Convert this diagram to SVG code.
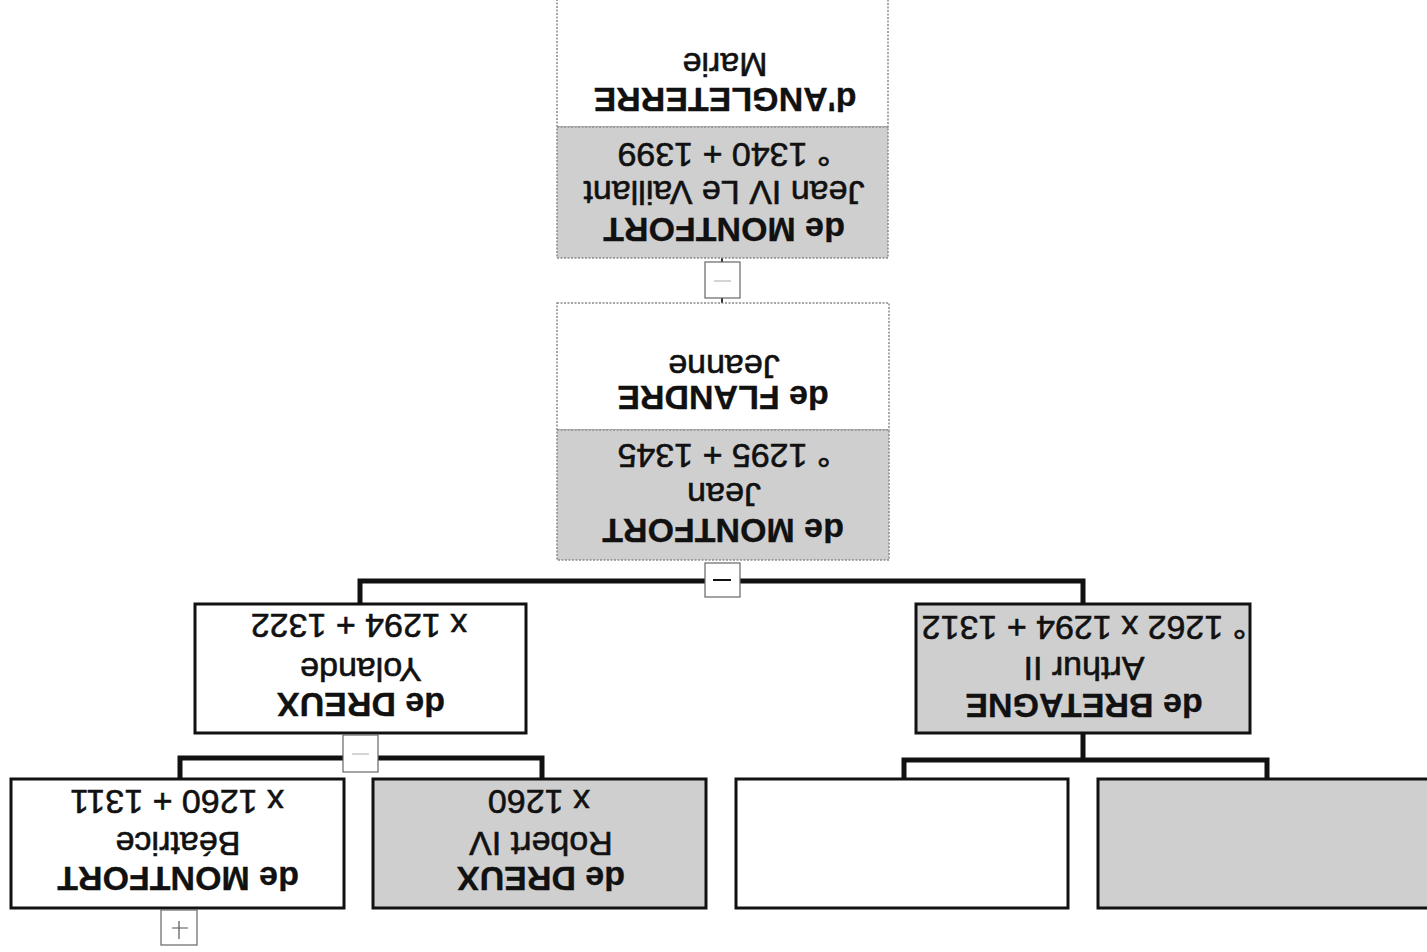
<svg xmlns="http://www.w3.org/2000/svg" width="1427" height="952" viewBox="0 0 1427 952">
<style>
text{font-family:"Liberation Sans",Arial,sans-serif;font-size:34px;fill:#111;text-anchor:middle;stroke:#111;stroke-width:0.6}
.b{font-weight:bold;stroke-width:0.3}
.g{fill:#cfcfcf}
.w{fill:#fff}
.dot{stroke:#8a8a8a;stroke-width:1.5;stroke-dasharray:2 1.5}
.blk{stroke:#111;stroke-width:3}
.conn{stroke:#111;stroke-width:5;fill:none}
.sb{fill:#fff;stroke:#666;stroke-width:1.2}
</style>
<rect width="1427" height="952" fill="#fff"/>
<g id="connectors">
<path class="conn" d="M360 604V581H1083V604"/>
<path class="conn" d="M180 779V758H542V779"/>
<path class="conn" d="M1083 733V760M904 780V760H1267V780"/>
<path d="M722 258V303" stroke="#333" stroke-width="2"/>
</g>
<g id="n-jean4">
<rect class="w dot" x="557" y="-2" width="331" height="129"/>
<rect class="g dot" x="557" y="127" width="331" height="131"/>
<text class="b" transform="rotate(180 724 218)" x="724" y="218">de MONTFORT</text>
<text transform="rotate(180 724 181)" x="724" y="181">Jean IV Le Vaillant</text>
<text transform="rotate(180 724 143)" x="724" y="143">° 1340 + 1399</text>
<text class="b" transform="rotate(180 725 88)" x="725" y="88">d'ANGLETERRE</text>
<text transform="rotate(180 725 53)" x="725" y="53">Marie</text>
</g>
<g id="s1">
<rect class="sb" x="705" y="262" width="35" height="36"/>
<line x1="714" y1="281" x2="731" y2="281" stroke="#aaa" stroke-width="1"/>
</g>
<g id="n-jean">
<rect class="w dot" x="557" y="303" width="332" height="127"/>
<rect class="g dot" x="557" y="430" width="332" height="130"/>
<text class="b" transform="rotate(180 723 519)" x="723" y="519">de MONTFORT</text>
<text transform="rotate(180 724 483)" x="724" y="483">Jean</text>
<text transform="rotate(180 724 444)" x="724" y="444">° 1295 + 1345</text>
<text class="b" transform="rotate(180 723 386)" x="723" y="386">de FLANDRE</text>
<text transform="rotate(180 724 355)" x="724" y="355">Jeanne</text>
</g>
<g id="s2">
<rect class="sb" x="705" y="563" width="35" height="34"/>
<line x1="713" y1="580" x2="731" y2="580" stroke="#111" stroke-width="2"/>
</g>
<g id="n-yolande">
<rect class="w blk" x="195" y="604" width="331" height="129"/>
<text class="b" transform="rotate(180 361 693)" x="361" y="693">de DREUX</text>
<text transform="rotate(180 361 658)" x="361" y="658">Yolande</text>
<text transform="rotate(180 359 614)" x="359" y="614">x 1294 + 1322</text>
</g>
<g id="n-arthur">
<rect class="g blk" x="916" y="604" width="334" height="129"/>
<text class="b" transform="rotate(180 1084 694)" x="1084" y="694">de BRETAGNE</text>
<text transform="rotate(180 1084 657)" x="1084" y="657">Arthur II</text>
<text transform="rotate(180 1084 616)" x="1084" y="616">° 1262 x 1294 + 1312</text>
</g>
<g id="s3">
<rect class="sb" x="343" y="735" width="35" height="37"/>
<line x1="352" y1="754" x2="369" y2="754" stroke="#aaa" stroke-width="1"/>
</g>
<g id="n-beatrice">
<rect class="w blk" x="11" y="779" width="333" height="129"/>
<text class="b" transform="rotate(180 178 867)" x="178" y="867">de MONTFORT</text>
<text transform="rotate(180 178 832)" x="178" y="832">Béatrice</text>
<text transform="rotate(180 177 790)" x="177" y="790">x 1260 + 1311</text>
</g>
<g id="n-robert">
<rect class="g blk" x="373" y="779" width="333" height="129"/>
<text class="b" transform="rotate(180 541 867)" x="541" y="867">de DREUX</text>
<text transform="rotate(180 541 832)" x="541" y="832">Robert IV</text>
<text transform="rotate(180 539 790)" x="539" y="790">x 1260</text>
</g>
<g id="n-empty1">
<rect class="w blk" x="736" y="779" width="332" height="129"/>
</g>
<g id="n-empty2">
<rect class="g blk" x="1098" y="779" width="335" height="129"/>
</g>
<g id="s4">
<rect class="sb" x="161" y="910" width="36" height="35"/>
<path d="M172 928H188M179 921V939" stroke="#555" stroke-width="1.2"/>
</g>
</svg>
